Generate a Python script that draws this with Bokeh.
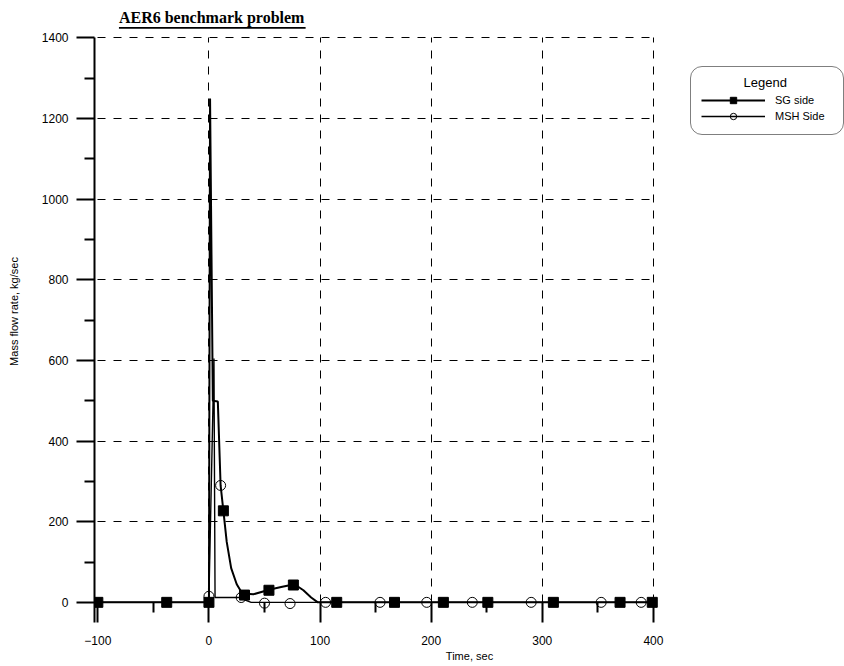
from bokeh.plotting import figure
from bokeh.models import Legend, LegendItem, Label, BoxAnnotation, Range1d, FixedTicker, Grid
from bokeh.embed import file_html
from bokeh.resources import INLINE

# ---- data ----
x_ticks = [-100, 0, 100, 200, 300, 400]
x_minor = [-50, 50, 150, 250, 350]
y_ticks = [0, 200, 400, 600, 800, 1000, 1200, 1400]
y_minor = [100, 300, 500, 700, 900, 1100, 1300]

sg_x = [-100, -38, 0, 1, 3.5, 8, 10.5, 13, 16, 20, 25, 30, 40, 55, 65, 77, 85, 92, 98, 115, 167, 211, 251, 310, 370, 400]
sg_y = [0, 0, 0, 1250, 500, 498, 290, 227, 150, 85, 45, 22, 20, 32, 38, 45, 30, 12, 0, 0, 0, 0, 0, 0, 0, 0]
sg_mx = [-100, -38, 0, 13, 32, 54, 76, 115, 167, 211, 251, 310, 370, 399]
sg_my = [0, 0, 0, 227, 18, 30, 43, 0, 0, 0, 0, 0, 0, 0]

msh_x = [-100, -1, 0, 4.5, 5.5, 28, 32, 38, 52, 71, 105, 154, 196, 237, 290, 353, 389, 400]
msh_y = [0, 0, 15, 605, 12, 12, 6, 0, 0, 0, 0, 0, 0, 0, 0, 0, 0, 0]
msh_mx = [0, 10.5, 29, 50, 73, 105, 154, 196, 237, 290, 353, 389]
msh_my = [15, 290, 12, -2, -3, 0, 0, 0, 0, 0, 0, 0]

X_MIN, X_MAX = -100, 400
Y_MIN, Y_MAX = 0, 1400

FONT = "Liberation Sans"

p = figure(width=844, height=666, output_backend="svg", toolbar_location=None,
           x_range=Range1d(-103, 572), y_range=Range1d(-50, 1493),
           min_border_left=94, min_border_right=0, min_border_top=0, min_border_bottom=44)
p.outline_line_color = None
p.background_fill_color = "white"
p.border_fill_color = "white"

# axes
xa = p.xaxis[0]
xa.bounds = (X_MIN, X_MAX)
xa.ticker = FixedTicker(ticks=x_ticks, minor_ticks=x_minor)
xa.axis_line_color = None
xa.major_tick_in = 20
xa.major_tick_out = 0
xa.major_tick_line_width = 2
xa.minor_tick_in = 20
xa.minor_tick_out = -10
xa.minor_tick_line_width = 2
xa.major_label_text_font = FONT
xa.major_label_text_font_size = "12px"
xa.major_label_text_color = "black"
xa.major_label_standoff = 13
xa.axis_label = "Time, sec"
xa.axis_label_text_font = FONT
xa.axis_label_text_font_size = "11px"
xa.axis_label_text_font_style = "normal"
xa.axis_label_text_color = "black"
xa.axis_label_standoff = 2

ya = p.yaxis[0]
ya.bounds = (-50, Y_MAX)
ya.ticker = FixedTicker(ticks=y_ticks, minor_ticks=y_minor)
ya.axis_line_width = 2
ya.axis_line_color = "black"
ya.major_tick_in = 0
ya.major_tick_out = 18
ya.major_tick_line_width = 2
ya.minor_tick_in = 0
ya.minor_tick_out = 10
ya.minor_tick_line_width = 2
ya.major_label_text_font = FONT
ya.major_label_text_font_size = "12px"
ya.major_label_text_color = "black"
ya.major_label_standoff = 8
ya.axis_label = "Mass flow rate, kg/sec"
ya.axis_label_text_font = FONT
ya.axis_label_text_font_size = "11px"
ya.axis_label_text_font_style = "normal"
ya.axis_label_text_color = "black"
ya.axis_label_standoff = 19

# grids (dashed, limited to the data box)
p.xgrid.ticker = FixedTicker(ticks=x_ticks[1:])
p.ygrid.ticker = FixedTicker(ticks=y_ticks[1:])
has_cross = "cross_bounds" in Grid.properties()
for g in (p.xgrid[0], p.ygrid[0]):
    g.grid_line_color = "black"
    g.grid_line_alpha = 1.0
    g.grid_line_width = 1
    g.grid_line_dash = "8 8"
if has_cross:
    p.xgrid[0].cross_bounds = (Y_MIN, Y_MAX)
    p.ygrid[0].cross_bounds = (X_MIN, X_MAX)
else:
    p.xgrid[0].visible = False
    p.ygrid[0].visible = False
    gx = x_ticks[1:]
    p.segment(x0=gx, y0=[Y_MIN] * len(gx), x1=gx, y1=[Y_MAX] * len(gx),
              line_color="black", line_width=1, line_dash="8 8")
    gy = y_ticks[1:]
    p.segment(x0=[X_MIN] * len(gy), y0=gy, x1=[X_MAX] * len(gy), y1=gy,
              line_color="black", line_width=1, line_dash="8 8")

# series
sg_line = p.line(sg_x, sg_y, line_color="black", line_width=2)
sg_mark = p.scatter(sg_mx, sg_my, marker="square", size=10, fill_color="black", line_color="black")
msh_line = p.line(msh_x, msh_y, line_color="black", line_width=1.4)
msh_mark = p.scatter(msh_mx, msh_my, marker="circle", size=10, fill_color=None,
                     line_color="black", line_width=1)

# title with underline
p.add_layout(Label(x=-81, y=1451, text="AER6 benchmark problem",
                   text_font="Liberation Serif", text_font_style="bold", text_font_size="16px",
                   text_color="black", text_baseline="alphabetic"))
p.add_layout(BoxAnnotation(left=-81, right=87, bottom=1423, top=1427.5,
                           fill_color="black", fill_alpha=1, line_color=None))

# legend
legend = Legend(items=[LegendItem(label="SG side", renderers=[sg_line, sg_mark]),
                       LegendItem(label="MSH Side", renderers=[msh_line, msh_mark])],
                location=(596, 487), glyph_width=64, glyph_height=16,
                label_text_font=FONT, label_text_font_size="11px", label_text_color="black",
                label_standoff=10, label_height=16, label_width=58, spacing=0, padding=10,
                border_line_color="black", border_line_width=1,
                background_fill_color="white", background_fill_alpha=0,
                title=" ", title_text_font_size="13px", title_standoff=0)
if "border_radius" in Legend.properties():
    legend.border_radius = 12
p.add_layout(legend)
p.add_layout(Label(x=500.7, y=1289, text="Legend", text_font=FONT, text_font_size="13px",
                   text_align="center", text_baseline="middle", text_color="black"))

open("out.html", "w").write(file_html(p, INLINE))
